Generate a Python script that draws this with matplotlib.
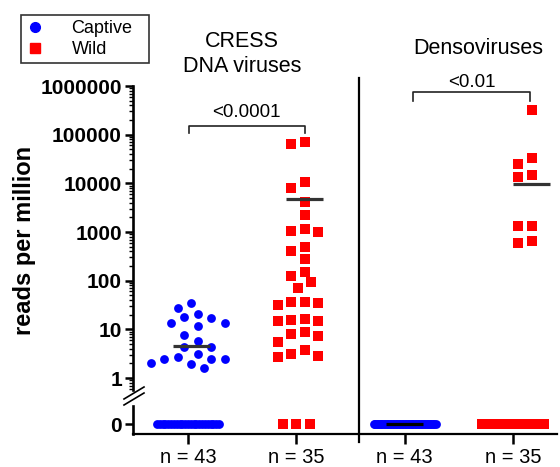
import numpy as np
import matplotlib
matplotlib.use('Agg')
import matplotlib.pyplot as plt
from matplotlib.lines import Line2D
from matplotlib import transforms

plt.rcParams['font.family'] = ['Liberation Sans', 'DejaVu Sans']

# data (reads per million)
panels = ['CRESS\nDNA viruses', 'Densoviruses']
groups = ['Captive', 'Wild']
n_labels = ['n = 43', 'n = 35', 'n = 43', 'n = 35']
p_values = ['<0.0001', '<0.01']

cress_captive = [34, 28, 17.7, 13.7, 11.7, 13.3, 17.1, 20.7, 7.8, 5.8,
                 4.4, 4.4, 2.5, 2.0, 2.7, 3.1, 2.5, 2.5, 1.6, 1.9] + [0] * 23
cress_wild = [64300, 71600, 10800, 8130, 4190, 2230, 1060, 986, 1136, 413,
              485, 275, 125, 151, 72, 93, 37, 35, 31, 36,
              15.6, 14.6, 14.8, 16.5, 8.7, 7.4, 8.0, 5.4, 3.8, 3.1,
              2.7, 2.9] + [0] * 3
denso_captive = [0] * 43
denso_wild = [321000, 33600, 24900, 14800, 13300, 1350, 1350, 586, 653] + [0] * 26
group_means = [4.6, 4760, 0, 9700]

series = [cress_captive, cress_wild, denso_captive, denso_wild]
colors = ['#0000ff', '#ff0000', '#0000ff', '#ff0000']
markers = ['o', 's', 'o', 's']
sizes = [40, 44, 40, 44]
shifts = [0.028, 0.078, 0.0, 0.175]   # horizontal offset of the scattered cloud

W, H = 560, 467
fig = plt.figure(figsize=(5.6, 4.67), dpi=100)

def fx(px):
    return px / W

def fy(py):
    return 1 - py / H

ax = fig.add_axes([fx(133), fy(390), fx(557) - fx(133), fy(86) - fy(390)])
ax0 = fig.add_axes([fx(133), fy(434), fx(557) - fx(133), fy(406) - fy(434)])

xlim = (-0.508, 3.407)
for a in (ax, ax0):
    a.set_xlim(*xlim)
    a.spines['top'].set_visible(False)
    a.spines['right'].set_visible(False)
    a.spines['left'].set_linewidth(1.9)
    a.spines['bottom'].set_linewidth(1.6)

ax.set_yscale('log')
ax.set_ylim(0.567, 1e6)
ax0.set_ylim(-1.0, 1.8)
ax.spines['bottom'].set_visible(False)
ax.set_xticks([])

ax.set_yticks([1, 10, 100, 1000, 10000, 100000, 1000000])
ax.set_yticklabels(['1', '10', '100', '1000', '10000', '100000', '1000000'],
                   fontweight='bold', fontsize=15)
ax.yaxis.set_minor_formatter(matplotlib.ticker.NullFormatter())
ax.tick_params(axis='y', which='major', length=6, width=1.8, pad=2)
ax.tick_params(axis='y', which='minor', length=3, width=1.0)

ax0.set_yticks([0])
ax0.set_yticklabels(['0'], fontweight='bold', fontsize=15)
ax0.tick_params(axis='y', length=6, width=1.8, pad=2)
ax0.set_xticks([0, 1, 2, 3])
ax0.set_xticklabels(n_labels, fontsize=14.5)
ax0.tick_params(axis='x', length=7, width=1.8, pad=3)


def swarm(a, x0, vals, step_px=6.7, diam_px=11.5):
    pts = a.transData.transform(np.column_stack([np.full(len(vals), x0), vals]))
    ypx = pts[:, 1]
    order = np.argsort(-ypx)
    cands = [0]
    for k in range(1, 40):
        cands += [k, -k] if k % 2 else [-k, k]
    placed = []
    off = np.zeros(len(vals))
    for i in order:
        for k in cands:
            dx = k * step_px
            if all((dx - px) ** 2 + (ypx[i] - py) ** 2 >= diam_px ** 2 for px, py in placed):
                break
        placed.append((dx, ypx[i]))
        off[i] = dx
    unit = a.transData.transform([(1, 1)])[0, 0] - a.transData.transform([(0, 1)])[0, 0]
    return x0 + off / unit


unit = ax.transData.transform([(1, 1)])[0, 0] - ax.transData.transform([(0, 1)])[0, 0]

for i, vals in enumerate(series):
    vals = np.array(vals, dtype=float)
    pos = vals[vals > 0]
    nz = int((vals == 0).sum())
    c = i + shifts[i]
    if len(pos):
        xs = swarm(ax, c, pos)
        ax.scatter(xs, pos, s=sizes[i], marker=markers[i], color=colors[i],
                   linewidths=0, clip_on=False, zorder=3)
    if nz:
        step = min(13.4, 62.0 / max(nz - 1, 1))
        xz = i + (np.arange(nz) - (nz - 1) / 2) * step / unit
        ax0.scatter(xz, np.zeros(nz), s=sizes[i], marker=markers[i], color=colors[i],
                    linewidths=0, clip_on=False, zorder=3)
    hw = 18.5 / unit
    if group_means[i] > 0:
        ax.plot([c - hw, c + hw], [group_means[i]] * 2, color='#333333', lw=2.3,
                solid_capstyle='butt', zorder=4)
    else:
        ax0.plot([c - hw, c + hw], [group_means[i]] * 2, color='black', lw=2.3,
                 solid_capstyle='butt', zorder=4)

# panel titles
tx = ax.get_xaxis_transform()
ax.text(0.5, 1.105, panels[0], transform=tx, ha='center', va='center',
        fontsize=15.5, linespacing=1.2)
ax.text(2.68, 1.125, panels[1], transform=tx, ha='center', va='center', fontsize=15.5)

# significance brackets
for (x1, x2, yb, yt), txt, (xt, ytt) in zip(
        [(0.009, 1.08, 0.845, 0.868), (2.078, 3.158, 0.951, 0.980)],
        p_values, [(0.536, 0.914), (2.62, 1.013)]):
    ax.plot([x1, x1, x2, x2], [yb, yt, yt, yb], transform=tx, color='#222222',
            lw=1.2, clip_on=False)
    ax.text(xt, ytt, txt, transform=tx, ha='center', va='center', fontsize=13.5)

# separator between the two panels
bt = transforms.blended_transform_factory(ax.transData, fig.transFigure)
fig.add_artist(Line2D([1.579, 1.579], [fy(78), fy(442)], transform=bt,
                      color='black', lw=1.6))

# axis break marks
for d in (0, 6):
    fig.add_artist(Line2D([fx(124), fx(144)], [fy(399 + d), fy(387 + d)],
                          color='black', lw=1.2))

fig.text(fx(25), fy(240), 'reads per million', rotation=90, ha='center', va='center',
         fontsize=17, fontweight='bold')

handles = [Line2D([], [], marker='o', color='#0000ff', ls='none', markersize=7),
           Line2D([], [], marker='s', color='#ff0000', ls='none', markersize=7)]
leg = fig.legend(handles, groups, loc='upper left',
                 bbox_to_anchor=(fx(21), fy(64), fx(149) - fx(21), fy(15) - fy(64)),
                 mode='expand', frameon=True, fancybox=False, fontsize=13,
                 handlelength=1.0, handletextpad=1.5, borderpad=0.3,
                 labelspacing=0.2, borderaxespad=0)
leg.get_frame().set_edgecolor('black')
leg.get_frame().set_linewidth(1.2)

fig.savefig('out.png', dpi=100)
